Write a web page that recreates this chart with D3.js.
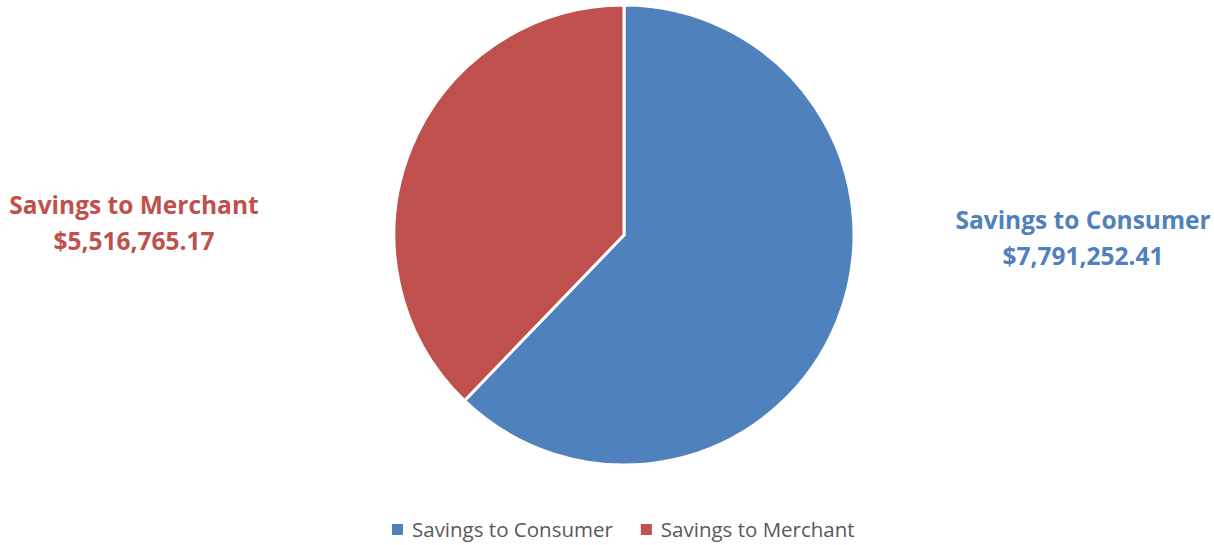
<!DOCTYPE html>
<html>
<head>
<meta charset="utf-8">
<script src="https://cdn.jsdelivr.net/npm/d3@7"></script>
<style>
  body { margin: 0; background: #fff; }
  svg { display: block; }
</style>
</head>
<body>
<svg id="chart" width="1214" height="545"></svg>
<script>
// data
const categories = ["Savings to Consumer", "Savings to Merchant"];
const labelValues = ["$7,791,252.41", "$5,516,765.17"];
// slice shares as drawn (%)
const sliceShares = [62.2, 37.8];
const colors = ["#4F81BD", "#C0504D"];

const svg = d3.select("#chart");
const width = 1214, height = 545;
const cx = 624, cy = 235, radius = 230;

const data = categories.map((c, i) => ({name: c, share: sliceShares[i], label: labelValues[i], color: colors[i]}));

const pie = d3.pie().sort(null).value(d => d.share)(data);
const arc = d3.arc().innerRadius(0).outerRadius(radius);

const g = svg.append("g").attr("transform", `translate(${cx},${cy})`);
g.selectAll("path")
    .data(pie)
    .join("path")
    .attr("d", arc)
    .attr("fill", d => d.data.color)
    .attr("stroke", "#fff")
    .attr("stroke-width", 3)
    .attr("stroke-linejoin", "miter");

// data labels, outside the pie
const labelPos = [[1083, 229], [134, 214]];
const labels = svg.append("g")
    .attr("font-family", "'Open Sans', sans-serif")
    .attr("font-weight", "bold")
    .attr("font-size", 24.5)
    .attr("text-anchor", "middle");

data.forEach((d, i) => {
    const t = labels.append("text")
        .attr("x", labelPos[i][0])
        .attr("y", labelPos[i][1])
        .attr("fill", d.color);
    t.append("tspan").attr("x", labelPos[i][0]).text(d.name);
    t.append("tspan").attr("x", labelPos[i][0]).attr("dy", 36).text(d.label);
});

// legend
const legend = svg.append("g")
    .attr("font-family", "'Open Sans', sans-serif")
    .attr("font-size", 20.5)
    .attr("fill", "#595959");

let lx = 392;
data.forEach(d => {
    legend.append("rect")
        .attr("x", lx).attr("y", 524)
        .attr("width", 11).attr("height", 11)
        .attr("fill", d.color);
    const t = legend.append("text")
        .attr("x", lx + 20).attr("y", 537)
        .text(d.name);
    lx += 20 + t.node().getComputedTextLength() + 28;
});
</script>
</body>
</html>
